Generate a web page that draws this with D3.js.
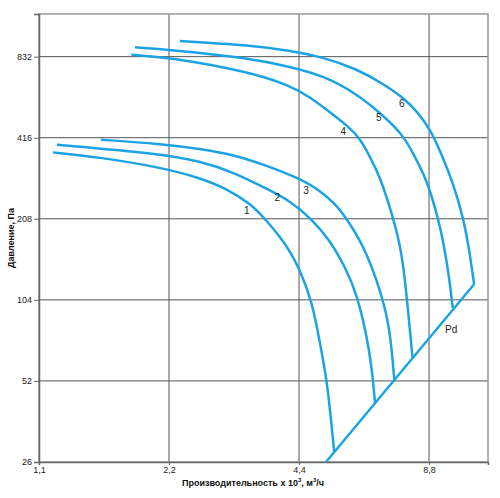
<!DOCTYPE html>
<html>
<head>
<meta charset="utf-8">
<script src="https://cdn.jsdelivr.net/npm/d3@7"></script>
<style>
  body { margin: 0; background: #fff; }
  text { font-family: "Liberation Sans", Arial, sans-serif; }
</style>
</head>
<body>
<svg id="graph" width="500" height="498"></svg>
<script>
// fan curves, Q in 10^3 m3/h, P in Pa
var q1 = [1.185, 1.52, 2.10, 2.60, 2.99, 3.39, 3.67, 3.98, 4.23, 4.40, 4.71, 4.92, 5.10, 5.19, 5.31];
var p1 = [367, 352, 323, 295, 269, 237, 208, 178, 154, 136, 104, 72, 52.4, 40.5, 28.2];
var q2 = [1.21, 2.10, 2.60, 3.10, 3.70, 4.19, 4.71, 5.19, 5.62, 5.99, 6.43, 6.60];
var p2 = [392, 363, 340, 310, 269, 243, 207.5, 173, 138, 110, 67.6, 43.0];
var q3 = [1.53, 2.10, 2.60, 3.10, 3.70, 4.42, 4.92, 5.38, 5.67, 6.31, 7.02, 7.19, 7.32];
var p3 = [409, 395, 378, 360, 328, 293, 265, 233, 208, 159, 95.2, 71.8, 51.6];
var q4 = [1.80, 2.2, 3.36, 4.19, 4.67, 5.19, 5.75, 6.10, 6.43, 6.78, 7.23, 7.61, 7.85, 8.06];
var p4 = [846, 827, 732, 650, 588, 517, 455, 412, 352, 297, 216, 159, 99.3, 63.4];
var q5 = [1.835, 2.2, 3.36, 4.19, 5.01, 5.99, 6.75, 7.35, 7.74, 8.09, 8.39, 8.69, 9.25, 9.58, 9.84, 9.985];
var p5 = [901, 883, 823, 764, 707, 605, 517, 455, 412, 363, 323, 289, 209, 159, 119.5, 97];
var q6 = [2.33, 3.36, 4.19, 5.01, 5.99, 6.90, 7.67, 8.30, 8.85, 9.33, 10.02, 10.57, 10.85, 11.19];
var p6 = [951, 919, 876, 827, 749, 659, 586, 516, 446, 373, 281, 208, 168, 118.8];
// dynamic pressure line
var qPd = [5.08, 11.19];
var pPd = [26, 118.8];

var curveNames = ["1", "2", "3", "4", "5", "6"];
var labelQ = [3.33, 3.92, 4.57, 5.57, 6.73, 7.61];
var labelP = [223, 249, 265, 440, 494, 558];

var xTicks = [1.1, 2.2, 4.4, 8.8];
var yTicks = [26, 52, 104, 208, 416, 832];

var blue = "#1ba3e3";
var graph = d3.select("#graph");

var x = d3.scaleLog().base(2)
  .domain([1.1, 12.05])
  .range([39, 488]);
var y = d3.scaleLog().base(2)
  .domain([26, 1198])
  .range([462, 14]);

// grid
graph.append("g").selectAll("line").data(xTicks.slice(1)).enter().append("line")
  .attr("x1", function(d) { return x(d); }).attr("x2", function(d) { return x(d); })
  .attr("y1", y.range()[1]).attr("y2", y.range()[0])
  .attr("stroke", "#555").attr("stroke-width", 1);
graph.append("g").selectAll("line").data(yTicks.slice(1)).enter().append("line")
  .attr("x1", x.range()[0]).attr("x2", x.range()[1])
  .attr("y1", function(d) { return y(d); }).attr("y2", function(d) { return y(d); })
  .attr("stroke", "#555").attr("stroke-width", 1);

// frame
graph.append("rect")
  .attr("x", 39).attr("y", 14)
  .attr("width", x.range()[1] - 39).attr("height", 462 - 14)
  .attr("fill", "none").attr("stroke", "#999").attr("stroke-width", 1.5);

var fmt = function(d) { return String(d).replace(".", ","); };

var axis = d3.axisBottom(x).tickValues(xTicks).tickFormat(fmt).tickSize(3).tickPadding(2);
var gx = graph.append("g")
  .attr("transform", "translate(0,462)")
  .call(axis);
axis = d3.axisLeft(y).tickValues(yTicks).tickFormat(d3.format("d")).tickSize(5).tickPadding(2);
var gy = graph.append("g")
  .attr("transform", "translate(39,0)")
  .call(axis);
[gx, gy].forEach(function(g) {
  g.select(".domain").attr("stroke", "#666").attr("stroke-width", 1.5);
  g.selectAll(".tick line").attr("stroke", "#666");
  g.selectAll("text").attr("font-size", 9).attr("fill", "#222")
    .attr("font-family", "'Liberation Sans', Arial, sans-serif");
});

var line = d3.line()
  .x(function(d) { return x(d[0]); })
  .y(function(d) { return y(d[1]); })
  .curve(d3.curveBasis);

var series = [[q1, p1], [q2, p2], [q3, p3], [q4, p4], [q5, p5], [q6, p6]];
series.forEach(function(s) {
  graph.append("path")
    .attr("d", line(d3.zip(s[0], s[1])))
    .attr("stroke", blue)
    .attr("stroke-width", 2.5)
    .attr("fill", "none");
});

graph.append("path")
  .attr("d", d3.line().x(function(d) { return x(d[0]); }).y(function(d) { return y(d[1]); })(d3.zip(qPd, pPd)))
  .attr("stroke", blue)
  .attr("stroke-width", 2.5)
  .attr("fill", "none");

curveNames.forEach(function(n, i) {
  graph.append("text")
    .attr("x", x(labelQ[i])).attr("y", y(labelP[i]))
    .attr("dy", "0.35em")
    .attr("text-anchor", "middle")
    .attr("font-size", 10).attr("fill", "#222")
    .text(n);
});
graph.append("text")
  .attr("x", x(9.9)).attr("y", y(80.7))
  .attr("dy", "0.35em")
  .attr("text-anchor", "middle")
  .attr("font-size", 10).attr("fill", "#222")
  .text("Pd");

// axis titles
graph.append("text")
  .attr("x", 253).attr("y", 486)
  .attr("text-anchor", "middle")
  .attr("font-size", 9).attr("font-weight", "bold").attr("fill", "#111")
  .html("Производительность x 10<tspan dy='-4' font-size='6'>3</tspan><tspan dy='4'>, м</tspan><tspan dy='-4' font-size='6'>3</tspan><tspan dy='4'>/ч</tspan>");
graph.append("text")
  .attr("transform", "translate(14,238) rotate(-90)")
  .attr("text-anchor", "middle")
  .attr("font-size", 9).attr("font-weight", "bold").attr("fill", "#111")
  .text("Давление, Па");
</script>
</body>
</html>
